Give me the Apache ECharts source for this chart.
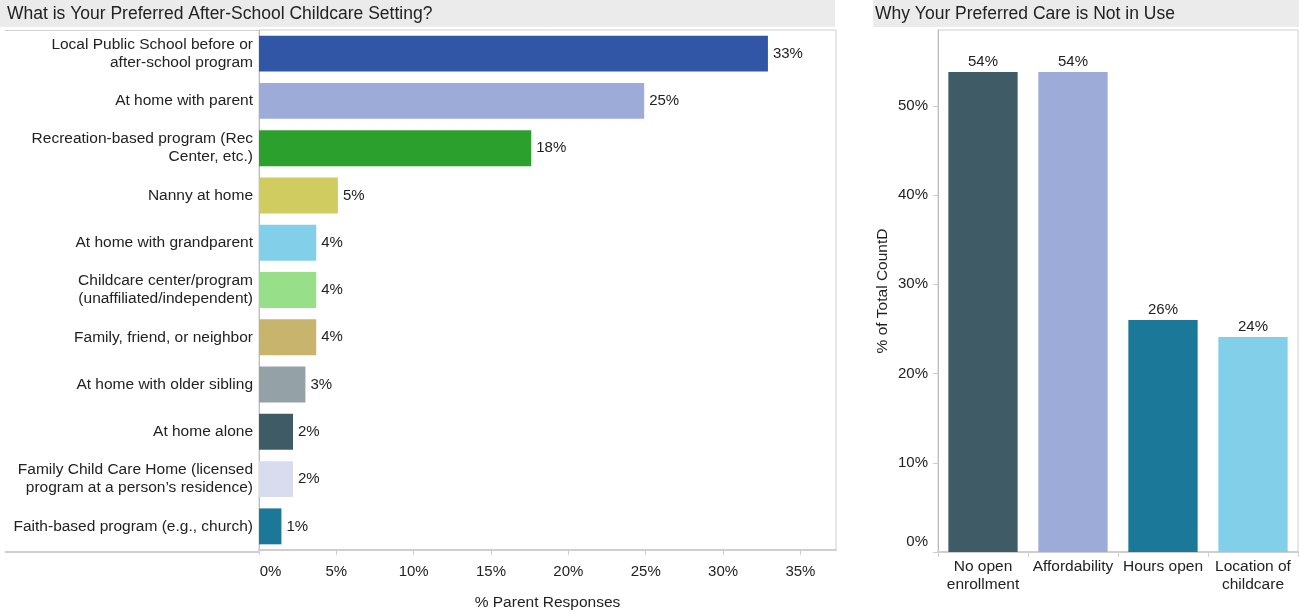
<!DOCTYPE html>
<html>
<head>
<meta charset="utf-8">
<script src="https://cdn.jsdelivr.net/npm/echarts@6/dist/echarts.min.js"></script>
<style>
  html, body { margin: 0; padding: 0; background: #fff; }
  #chart { width: 1299px; height: 616px; }
</style>
</head>
<body>
<div id="chart"></div>
<script>
// Preferred after-school setting (% of parent responses)
const settingCategories = [
  'Local Public School before or\nafter-school program',
  'At home with parent',
  'Recreation-based program (Rec\nCenter, etc.)',
  'Nanny at home',
  'At home with grandparent',
  'Childcare center/program\n(unaffiliated/independent)',
  'Family, friend, or neighbor',
  'At home with older sibling',
  'At home alone',
  'Family Child Care Home (licensed\nprogram at a person\u2019s residence)',
  'Faith-based program (e.g., church)'
];
const settingValues = [32.9, 24.9, 17.6, 5.1, 3.7, 3.7, 3.7, 3.0, 2.2, 2.2, 1.45];
const settingColors = ['#3256A6', '#9DABD9', '#2CA02C', '#D0CC5F', '#81CFE8', '#98DF8A',
                       '#C9B46E', '#94A2A8', '#3F5B66', '#D9DBEE', '#1B7898'];
const settingTicks = [0, 5, 10, 15, 20, 25, 30, 35];

// Reasons the preferred care is not in use (% of total CountD)
const reasonCategories = ['No open\nenrollment', 'Affordability', 'Hours open', 'Location of\nchildcare'];
const reasonValues = [53.8, 53.8, 26.0, 24.1];
const reasonColors = ['#3F5B66', '#9DABD9', '#1B7898', '#81CFE8'];
const reasonTicks = [0, 10, 20, 30, 40, 50];

const FONT = "'Liberation Sans', Arial, sans-serif";
const TEXT = '#222';
const LINE = '#cfcfcf';
const LABEL_SIZE = 15.5;  // category names and axis titles
const NUM_SIZE = 15;      // tick and value labels
const TITLE_SIZE = 17.5;

const chart = echarts.init(document.getElementById('chart'), null, { renderer: 'canvas' });

const pct = v => Math.round(v) + '%';

chart.setOption({
  animation: false,
  textStyle: { fontFamily: FONT },
  graphic: [
    { type: 'rect', shape: { x: 0, y: 0, width: 835, height: 27 }, style: { fill: '#ebebeb' }, z: 0 },
    { type: 'rect', shape: { x: 873, y: 0, width: 426, height: 27 }, style: { fill: '#ebebeb' }, z: 0 },
    { type: 'text', x: 7, y: 14, style: { text: 'What is Your Preferred After-School Childcare Setting?', font: TITLE_SIZE + 'px ' + FONT, fill: TEXT, verticalAlign: 'middle' }, z: 1 },
    { type: 'text', x: 875, y: 14, style: { text: 'Why Your Preferred Care is Not in Use', font: TITLE_SIZE + 'px ' + FONT, fill: TEXT, verticalAlign: 'middle' }, z: 1 },
    // header-row rules running under the category labels
    { type: 'line', shape: { x1: 5, y1: 30.5, x2: 259, y2: 30.5 }, style: { stroke: LINE, lineWidth: 1 }, z: 1 },
    { type: 'line', shape: { x1: 5, y1: 552, x2: 259, y2: 552 }, style: { stroke: LINE, lineWidth: 2 }, z: 1 }
  ],
  grid: [
    { left: 259, top: 30, width: 577, height: 522, show: true, borderColor: LINE, borderWidth: 1, containLabel: false },
    { left: 938, top: 30, width: 360, height: 522, show: true, borderColor: LINE, borderWidth: 1, containLabel: false }
  ],
  xAxis: [
    {
      gridIndex: 0, type: 'value', min: 0, max: 37.3, interval: 5,
      name: '% Parent Responses', nameLocation: 'middle', nameGap: 45,
      nameTextStyle: { fontSize: LABEL_SIZE, color: TEXT, fontFamily: FONT },
      axisLine: { show: true, lineStyle: { color: LINE, width: 2 } },
      axisTick: { show: true, length: 5, lineStyle: { color: LINE } },
      splitLine: { show: false },
      axisLabel: {
        fontSize: NUM_SIZE, color: TEXT, margin: 14, fontFamily: FONT, showMaxLabel: false,
        formatter: v => settingTicks.indexOf(v) < 0 ? '' : (v === 0 ? '{z|0%}' : v + '%'),
        rich: { z: { fontSize: NUM_SIZE, color: TEXT, padding: [0, 0, 0, 23], fontFamily: FONT } }
      }
    },
    {
      gridIndex: 1, type: 'category', data: reasonCategories,
      axisLine: { show: true, lineStyle: { color: LINE, width: 2 } },
      axisTick: { show: true, length: 5, alignWithLabel: false, lineStyle: { color: LINE } },
      axisLabel: { fontSize: LABEL_SIZE, color: TEXT, margin: 6, lineHeight: 18, interval: 0, fontFamily: FONT }
    }
  ],
  yAxis: [
    {
      gridIndex: 0, type: 'category', data: settingCategories, inverse: true,
      axisLine: { show: true, lineStyle: { color: '#bdbdbd' } },
      axisTick: { show: false },
      axisLabel: { fontSize: LABEL_SIZE, color: TEXT, margin: 6, lineHeight: 18, interval: 0, align: 'right', fontFamily: FONT }
    },
    {
      gridIndex: 1, type: 'value', min: 0, max: 58.5, interval: 10,
      name: '% of Total CountD', nameLocation: 'middle', nameGap: 47, nameRotate: 90,
      nameTextStyle: { fontSize: LABEL_SIZE, color: TEXT, fontFamily: FONT },
      axisLine: { show: true, lineStyle: { color: '#bdbdbd' } },
      axisTick: { show: true, length: 5, lineStyle: { color: LINE } },
      splitLine: { show: false },
      axisLabel: {
        fontSize: NUM_SIZE, color: TEXT, margin: 10, fontFamily: FONT, showMaxLabel: false,
        formatter: v => reasonTicks.indexOf(v) < 0 ? '' : (v === 0 ? '{z|0%}' : v + '%'),
        rich: { z: { fontSize: NUM_SIZE, color: TEXT, padding: [0, 0, 20, 0], fontFamily: FONT } }
      }
    }
  ],
  series: [
    {
      type: 'bar', xAxisIndex: 0, yAxisIndex: 0, barCategoryGap: '24%',
      data: settingValues.map((v, i) => ({ value: v, itemStyle: { color: settingColors[i] } })),
      label: { show: true, position: 'right', distance: 5, fontSize: NUM_SIZE, color: TEXT, fontFamily: FONT, formatter: p => pct(p.value) }
    },
    {
      type: 'bar', xAxisIndex: 1, yAxisIndex: 1, barCategoryGap: '23%',
      data: reasonValues.map((v, i) => ({ value: v, itemStyle: { color: reasonColors[i] } })),
      label: { show: true, position: 'top', distance: 3, fontSize: NUM_SIZE, color: TEXT, fontFamily: FONT, formatter: p => pct(p.value) }
    }
  ]
});
</script>
</body>
</html>
